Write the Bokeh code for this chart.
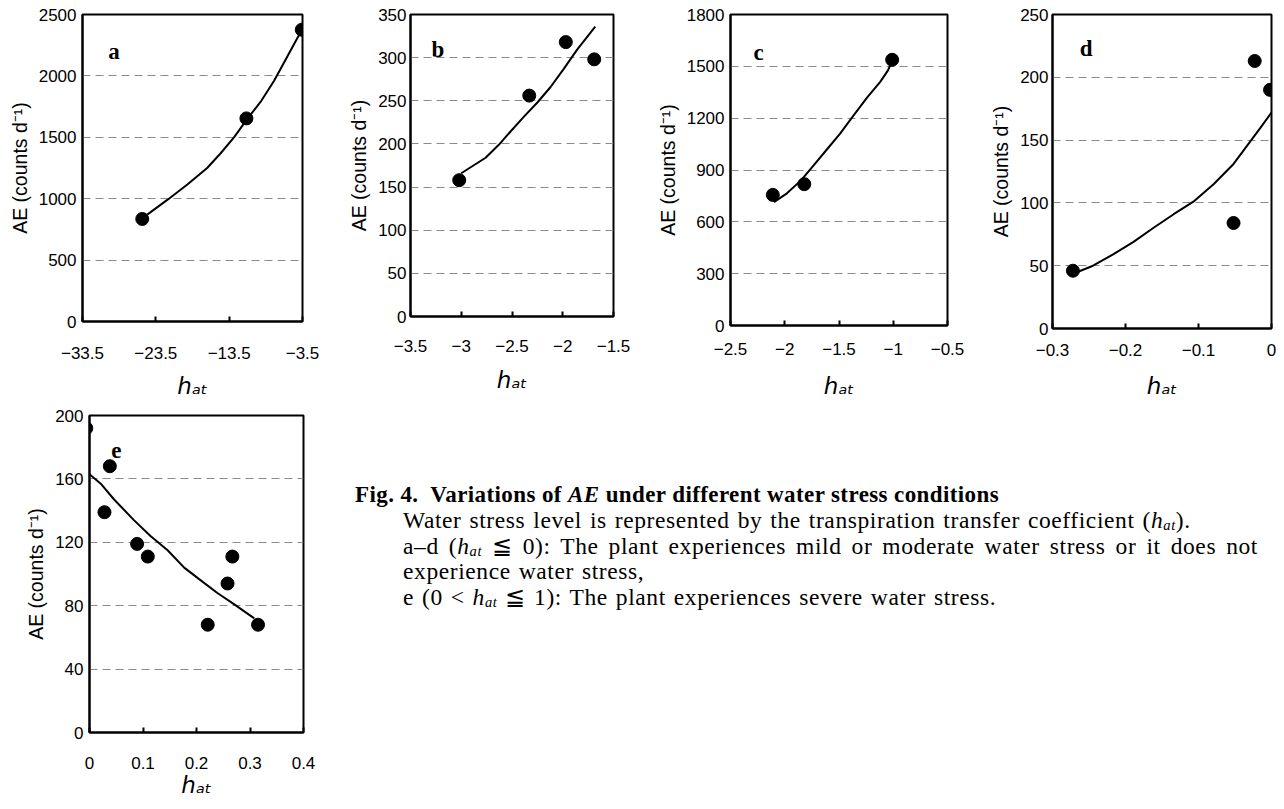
from bokeh.plotting import figure
from bokeh.layouts import row, column
from bokeh.models import Range1d, FixedTicker, Div
from bokeh.core.properties import value
from bokeh.embed import file_html
from bokeh.resources import INLINE

# ---------------- data ----------------
# panel a
a_x = [-25.35, -11.15, -3.6]
a_y = [835, 1654, 2376]
a_fit_x = [-24.67, -21.94, -19.2, -16.5, -14.66, -12.84, -11.15, -9.2, -7.37, -5.55, -3.73]
a_fit_y = [870, 990, 1115, 1250, 1370, 1500, 1640, 1790, 1960, 2160, 2360]
a_xticks = [-33.5, -23.5, -13.5, -3.5]
a_xlabels = ["\u221233.5", "\u221223.5", "\u221213.5", "\u22123.5"]
a_yticks = [0, 500, 1000, 1500, 2000, 2500]

# panel b
b_x = [-3.02, -2.33, -1.97, -1.69]
b_y = [158, 256, 318, 298]
b_fit_x = [-3.0, -2.76, -2.63, -2.51, -2.38, -2.25, -2.12, -1.99, -1.86, -1.68]
b_fit_y = [166, 184, 199, 215, 232, 248, 266, 287, 309, 336]
b_xticks = [-3.5, -3.0, -2.5, -2.0, -1.5]
b_xlabels = ["\u22123.5", "\u22123", "\u22122.5", "\u22122", "\u22121.5"]
b_yticks = [0, 50, 100, 150, 200, 250, 300, 350]

# panel c
c_x = [-2.11, -1.82, -1.01]
c_y = [756, 818, 1538]
c_fit_x = [-2.1, -1.98, -1.85, -1.73, -1.61, -1.49, -1.36, -1.24, -1.12, -1.05, -1.01]
c_fit_y = [714, 765, 840, 930, 1020, 1110, 1220, 1320, 1410, 1475, 1530]
c_xticks = [-2.5, -2.0, -1.5, -1.0, -0.5]
c_xlabels = ["\u22122.5", "\u22122", "\u22121.5", "\u22121", "\u22120.5"]
c_yticks = [0, 300, 600, 900, 1200, 1500, 1800]

# panel d
d_x = [-0.272, -0.052, -0.023, -0.002]
d_y = [46, 84, 213, 190]
d_fit_x = [-0.27, -0.2445, -0.217, -0.189, -0.162, -0.134, -0.107, -0.079, -0.052, -0.029, -0.015, 0.0]
d_fit_y = [44, 50, 59, 69, 80, 91, 101, 115, 131, 149, 160, 172]
d_xticks = [-0.3, -0.2, -0.1, 0.0]
d_xlabels = ["\u22120.3", "\u22120.2", "\u22120.1", "0"]
d_yticks = [0, 50, 100, 150, 200, 250]

# panel e
e_x = [-0.006, 0.028, 0.038, 0.089, 0.109, 0.221, 0.258, 0.267, 0.315]
e_y = [192, 139, 168, 119, 111, 68, 94, 111, 68]
e_fit_x = [0.0, 0.021, 0.046, 0.083, 0.114, 0.146, 0.177, 0.208, 0.239, 0.27, 0.308]
e_fit_y = [163, 157, 147, 134, 124, 115, 104, 96, 88, 81, 72]
e_xticks = [0.0, 0.1, 0.2, 0.3, 0.4]
e_xlabels = ["0", "0.1", "0.2", "0.3", "0.4"]
e_yticks = [0, 40, 80, 120, 160, 200]

panel_letters = ["a", "b", "c", "d", "e"]
letter_x = [-29.2, -3.23, -2.24, -0.254, 0.05]
letter_y = [2200, 309, 1582, 223, 178]

y_title = "AE (counts d\u207b\u00b9)"
x_title = "h\u2090\u209c"

SANS = "Liberation Sans"


def panel(xs, ys, fx, fy, xr, yr, xticks, xlabels, yticks, idx,
          fw, fh, bl, br, bt, bb, xstand, xlabstand, ystand):
    p = figure(frame_width=fw, frame_height=fh,
               x_range=Range1d(*xr), y_range=Range1d(*yr),
               output_backend="svg", toolbar_location=None,
               min_border_left=bl, min_border_right=br,
               min_border_top=bt, min_border_bottom=bb)
    p.background_fill_color = "white"
    p.border_fill_color = "white"
    p.outline_line_color = "black"
    p.outline_line_width = 2

    p.xgrid.visible = False
    p.ygrid.grid_line_color = "#8a8a8a"
    p.ygrid.grid_line_dash = "8 5"
    p.ygrid.grid_line_width = 1

    p.xaxis.ticker = FixedTicker(ticks=xticks)
    p.xaxis.major_label_overrides = {t: l for t, l in zip(xticks, xlabels)}
    p.yaxis.ticker = FixedTicker(ticks=yticks)
    p.ygrid.ticker = FixedTicker(ticks=yticks)

    for ax in (p.xaxis, p.yaxis):
        ax.axis_line_width = 2
        ax.axis_line_color = "black"
        ax.major_tick_line_color = "black"
        ax.major_tick_line_width = 2
        ax.minor_tick_line_color = None
        ax.major_label_text_font = SANS
        ax.major_label_text_font_size = "17px"
        ax.major_label_text_color = "black"
        ax.axis_label_text_color = "black"

    p.xaxis.major_tick_in = 5
    p.xaxis.major_tick_out = 0
    p.xaxis.major_label_standoff = xstand
    p.xaxis.axis_label = x_title
    p.xaxis.axis_label_text_font = "DejaVu Sans"
    p.xaxis.axis_label_text_font_style = "italic"
    p.xaxis.axis_label_text_font_size = "23px"
    p.xaxis.axis_label_standoff = xlabstand

    p.yaxis.major_tick_in = 0
    p.yaxis.major_tick_out = 0
    p.yaxis.major_label_standoff = ystand
    p.yaxis.axis_label = y_title
    p.yaxis.axis_label_text_font = SANS
    p.yaxis.axis_label_text_font_style = "normal"
    p.yaxis.axis_label_text_font_size = "19.5px"
    p.yaxis.axis_label_standoff = 5

    p.line(fx, fy, line_width=2, color="black")
    p.scatter(xs, ys, size=13, color="black", marker="circle")
    p.text(x=[letter_x[idx]], y=[letter_y[idx]], text=[panel_letters[idx]],
           text_font=value("Liberation Serif"), text_font_style="bold",
           text_font_size="23px", text_align="center", text_baseline="middle",
           text_color="black")
    return p


H1 = 404  # height of the first row of panels
pa = panel(a_x, a_y, a_fit_x, a_fit_y, (-33.5, -3.5), (0, 2500), a_xticks, a_xlabels, a_yticks, 0,
           220, 307, 82, 20, 14, H1 - 14 - 307, 25, 11, 6)
pb = panel(b_x, b_y, b_fit_x, b_fit_y, (-3.5, -1.5), (0, 350), b_xticks, b_xlabels, b_yticks, 1,
           203, 302, 88, 25, 14, H1 - 14 - 302, 23, 12, 4)
pc = panel(c_x, c_y, c_fit_x, c_fit_y, (-2.5, -0.5), (0, 1800), c_xticks, c_xlabels, c_yticks, 2,
           217, 311, 92, 21, 14, H1 - 14 - 311, 17, 15, 6)
pd = panel(d_x, d_y, d_fit_x, d_fit_y, (-0.3, 0.0), (0, 250), d_xticks, d_xlabels, d_yticks, 3,
           219, 314, 84, 13, 14, H1 - 14 - 314, 15, 14, 4)
H2 = 809 - H1
pe = panel(e_x, e_y, e_fit_x, e_fit_y, (0.0, 0.4), (0, 200), e_xticks, e_xlabels, e_yticks, 4,
           214, 317, 89, 22, 415 - H1, H2 - (415 - H1) - 317, 24, 0, 6)

hat = '<i>h<sub style="font-size:62%;line-height:0;vertical-align:-0.12em;">at</sub></i>'
caption = f'''
<div style="font-family:'Liberation Serif','Times New Roman',serif;color:#000;padding-top:{72 - (H1 - 405)}px;padding-left:25px;">
<div style="font-weight:bold;font-size:23px;letter-spacing:0.4px;line-height:26px;white-space:nowrap;">Fig. 4.&nbsp; Variations of <i>AE</i> under different water stress conditions</div>
<div style="font-size:23.5px;letter-spacing:0.6px;word-spacing:1.5px;line-height:25.5px;padding-left:48px;white-space:nowrap;">
Water stress level is represented by the transpiration transfer coefficient ({hat}).<br>
<span style="display:inline-block;width:855px;text-align:justify;text-align-last:justify;">a\u2013d ({hat} \u2266 0): The plant experiences mild or moderate water stress or it does not</span><br>
experience water stress,<br>
e (0 &lt; {hat} \u2266 1): The plant experiences severe water stress.
</div>
</div>
'''
cap = Div(text=caption, width=959, height=H2)

top_row = row(column(pa, spacing=0), column(pb, spacing=0), column(pc, spacing=0),
              column(pd, spacing=0), spacing=0)
bottom_row = row(column(pe, spacing=0), cap, spacing=0)
layout = column(top_row, bottom_row, spacing=0)

open("out.html", "w").write(file_html(layout, INLINE))
